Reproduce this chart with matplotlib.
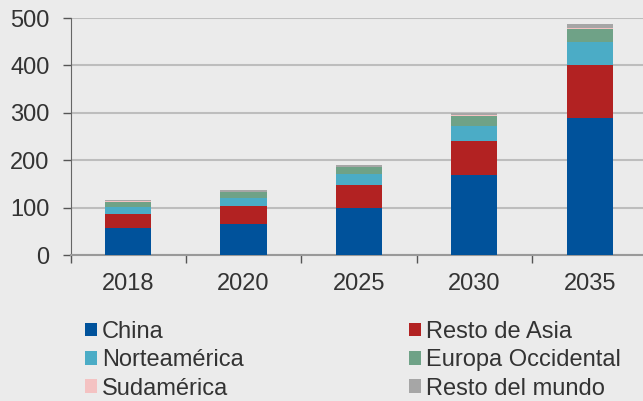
import numpy as np
import matplotlib.pyplot as plt
from matplotlib.patches import Patch

# ---- data ----
years = ["2018", "2020", "2025", "2030", "2035"]
china = [56, 66, 100, 169, 290]
resto_asia = [31, 37, 48, 71, 111]
norteamerica = [15, 17, 23, 33, 49]
europa = [10, 12, 14, 20, 27]
sudamerica = [1, 1.5, 1, 2, 3]
resto_mundo = [4, 4, 4, 5, 7]

series = [
    ("China", china, "#00529b"),
    ("Resto de Asia", resto_asia, "#b22222"),
    ("Norteamérica", norteamerica, "#4bacc6"),
    ("Europa Occidental", europa, "#6fa287"),
    ("Sudamérica", sudamerica, "#f4c2c2"),
    ("Resto del mundo", resto_mundo, "#a6a6a6"),
]

BG = "#ebebeb"
TXT = "#333333"
FS = 17
plt.rcParams["font.family"] = ["Liberation Sans", "DejaVu Sans"]

fig = plt.figure(figsize=(6.43, 4.01), dpi=100, facecolor=BG)
ax = fig.add_axes([0.1097, 0.364, 0.897, 0.591], facecolor=BG)

x = np.arange(len(years))
bottom = np.zeros(len(years))
for name, vals, col in series:
    vals = np.asarray(vals, float)
    ax.bar(x, vals, 0.4, bottom=bottom, color=col, edgecolor="none", label=name, zorder=3)
    bottom += vals

ax.set_xlim(-0.5, len(years) - 0.5)
ax.set_ylim(0, 500)
ax.set_yticks(range(0, 501, 100))
ax.yaxis.grid(True, color="#bdbdbd", lw=1.5, zorder=0)

# category labels at centres, tick marks at boundaries
ax.set_xticks(x)
ax.set_xticklabels(years)
ax.set_xticks(np.arange(-0.5, len(years) - 0.5), minor=True)
ax.tick_params(axis="x", which="major", length=0, pad=13, labelsize=FS, labelcolor=TXT)
ax.tick_params(axis="x", which="minor", length=6, width=1, color="#555555", direction="out")
ax.tick_params(axis="y", length=6, width=1, color="#555555", pad=9, labelsize=FS, labelcolor=TXT)

for s in ["top", "right"]:
    ax.spines[s].set_visible(False)
ax.spines["left"].set_color("#666666")
ax.spines["bottom"].set_color("#999999")
ax.spines["bottom"].set_linewidth(1.5)

# legend: row-major order in 2 columns
order = [0, 2, 4, 1, 3, 5]
handles = [Patch(facecolor=series[i][2], edgecolor="none", label=series[i][0]) for i in order]
fig.legend(handles=handles, ncol=2, loc="upper left", bbox_to_anchor=(0.132, 0.2),
           frameon=False, fontsize=FS, handlelength=0.52, handleheight=0.52,
           handletextpad=0.2, labelspacing=0.27, columnspacing=7.0, borderpad=0,
           borderaxespad=0, labelcolor=TXT)

fig.savefig("out.png", dpi=100, facecolor=BG)
